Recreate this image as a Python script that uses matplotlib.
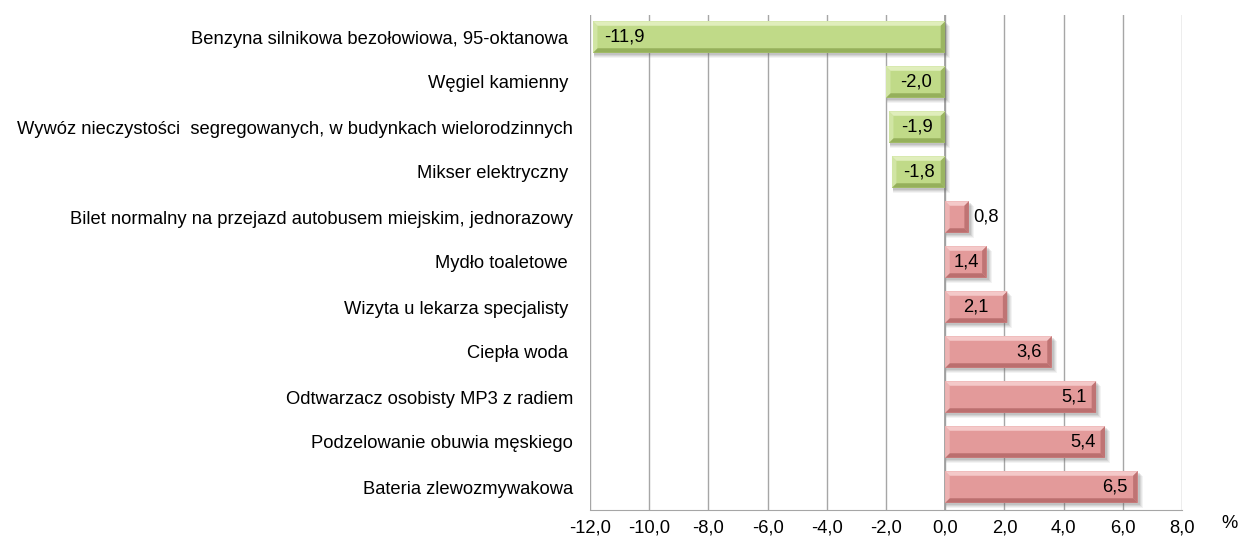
import matplotlib
matplotlib.use("Agg")
import matplotlib.pyplot as plt
from matplotlib.patches import Polygon, Rectangle
from matplotlib.transforms import IdentityTransform

plt.rcParams['font.family'] = ['Liberation Sans', 'DejaVu Sans']

categories = [
    "Benzyna silnikowa bezołowiowa, 95-oktanowa ",
    "Węgiel kamienny ",
    "Wywóz nieczystości  segregowanych, w budynkach wielorodzinnych",
    "Mikser elektryczny ",
    "Bilet normalny na przejazd autobusem miejskim, jednorazowy",
    "Mydło toaletowe ",
    "Wizyta u lekarza specjalisty ",
    "Ciepła woda ",
    "Odtwarzacz osobisty MP3 z radiem",
    "Podzelowanie obuwia męskiego",
    "Bateria zlewozmywakowa",
]
values = [-11.9, -2.0, -1.9, -1.8, 0.8, 1.4, 2.1, 3.6, 5.1, 5.4, 6.5]
xticks = [-12, -10, -8, -6, -4, -2, 0, 2, 4, 6, 8]

green = "#c0da88"
green_light = "#e2f0c0"
green_dark = "#8ea954"
red = "#e39a9a"
red_light = "#f6cccc"
red_dark = "#b46868"

FS = 13.2

fig = plt.figure(figsize=(12.42, 5.4), dpi=100)
ax = fig.add_axes([590/1242, 1-509.5/540, (1182-590)/1242, (509.5-14.5)/540])

n = len(categories)
ypos = list(range(n))
colors = [green if v < 0 else red for v in values]
bars = ax.barh(ypos, values, height=0.7, color=colors, edgecolor='none', zorder=3)

ax.set_xlim(-12, 8)
ax.set_ylim(n - 0.5, -0.5)
ax.set_xticks(xticks)
ax.set_xticklabels([f"{t:.1f}".replace('.', ',') for t in xticks], fontsize=FS)
ax.set_yticks(ypos)
ax.set_yticklabels(categories, fontsize=FS)
ax.tick_params(axis='y', length=0, pad=12)
ax.tick_params(axis='x', length=0, pad=7)
for t in xticks:
    ax.axvline(t, color='#a6a6a6', lw=1, zorder=1)
for s in ['top', 'right', 'left']:
    ax.spines[s].set_visible(False)
ax.spines['bottom'].set_color('#a6a6a6')
ax.axvline(0, color='#a0a0a0', lw=1.3, zorder=2)

fig.text(1230/1242, 1-523/540, "%", fontsize=FS, ha='center', va='center')

fig.canvas.draw()
bw = 4.5
for b, v in zip(bars, values):
    bb = b.get_window_extent()
    x0, x1, y0, y1 = bb.x0, bb.x1, bb.y0, bb.y1
    light = green_light if v < 0 else red_light
    dark = green_dark if v < 0 else red_dark
    # soft shadow
    for k, al in [(5, 0.07), (4, 0.09), (3, 0.12), (2, 0.15)]:
        ax.add_artist(Rectangle((x0 + 1, y0 - k), x1 - x0 + k - 1, y1 - y0, transform=IdentityTransform(),
                                facecolor='#606060', alpha=al, edgecolor='none', zorder=2.5))
    polys = [
        ([(x0, y1), (x1, y1), (x1 - bw, y1 - bw), (x0 + bw, y1 - bw)], light, 0.95),
        ([(x0, y0), (x1, y0), (x1 - bw, y0 + bw), (x0 + bw, y0 + bw)], dark, 0.85),
        ([(x0, y0), (x0, y1), (x0 + bw, y1 - bw), (x0 + bw, y0 + bw)], light, 0.5),
        ([(x1, y0), (x1, y1), (x1 - bw, y1 - bw), (x1 - bw, y0 + bw)], dark, 0.75),
    ]
    for pts, c, a in polys:
        ax.add_artist(Polygon(pts, closed=True, transform=IdentityTransform(),
                              facecolor=c, edgecolor='none', alpha=a, zorder=4))

for y, v in zip(ypos, values):
    lab = f"{v:.1f}".replace('.', ',')
    a = abs(v)
    if a < 1:
        ax.annotate(lab, (v, y), xytext=(3, 0), textcoords='offset points',
                    ha='left', va='center', fontsize=FS, zorder=5)
    elif a < 2.5:
        ax.text(v / 2, y, lab, ha='center', va='center', fontsize=FS, zorder=5)
    else:
        off = 8 if v < 0 else -7
        ax.annotate(lab, (v, y), xytext=(off, 0), textcoords='offset points',
                    ha='left' if v < 0 else 'right', va='center', fontsize=FS, zorder=5)

fig.savefig("out.png", dpi=100)
